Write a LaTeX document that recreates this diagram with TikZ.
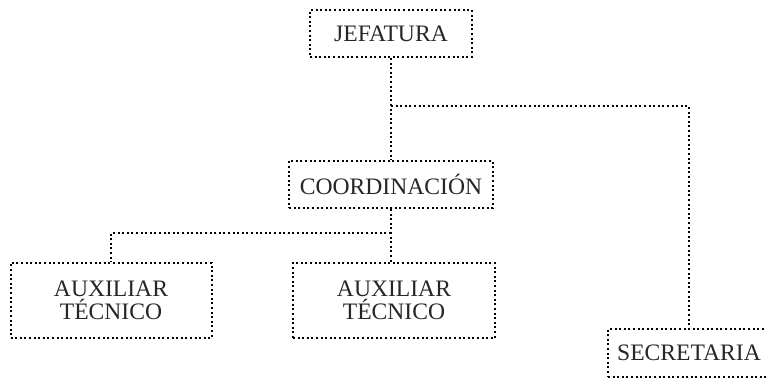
\documentclass[tikz,border=0pt]{standalone}
\usepackage{fontspec}
\setmainfont{Liberation Serif}
\usepackage{tikz}
\usetikzlibrary{positioning,calc}

\begin{document}
\begin{tikzpicture}[x=0.5pt,y=-0.5pt,
    unit/.style={draw=black,line width=1pt,dash pattern=on 1pt off 1.3pt,
                 font=\fontsize{11.8}{11.5}\selectfont,text=black!85,align=center,
                 inner sep=0pt,minimum width=#1},
    link/.style={draw=black,line width=1pt,dash pattern=on 1pt off 1.3pt}]
  \useasboundingbox (0,0) rectangle (766,379);

  %% Boxes
  \node[unit=81pt,minimum height=23.5pt] (jef) at (391,33.5) {JEFATURA};
  \node[unit=102pt,minimum height=23.5pt] (coord) at (391,184.5) {COORDINACI\'ON};
  \node[unit=100.5pt,minimum height=37.5pt] (aux1) at (111,300.5) {AUXILIAR\\T\'ECNICO};
  \node[unit=101pt,minimum height=37.5pt] (aux2) at (394,300.5) {AUXILIAR\\T\'ECNICO};
  \node[unit=81pt,minimum height=24pt] (sec) at (689,353) {SECRETARIA};

  %% Branch points
  \coordinate (bsec) at (391,106);
  \coordinate (baux) at (391,233);

  %% Connectors
  \draw[link] (jef.south) -- (coord.north);
  \draw[link] (bsec) -| (sec.north);
  \draw[link] (coord.south) -- (coord.south |- aux2.north);
  \draw[link] (baux) -| (aux1.north);
\end{tikzpicture}
\end{document}
